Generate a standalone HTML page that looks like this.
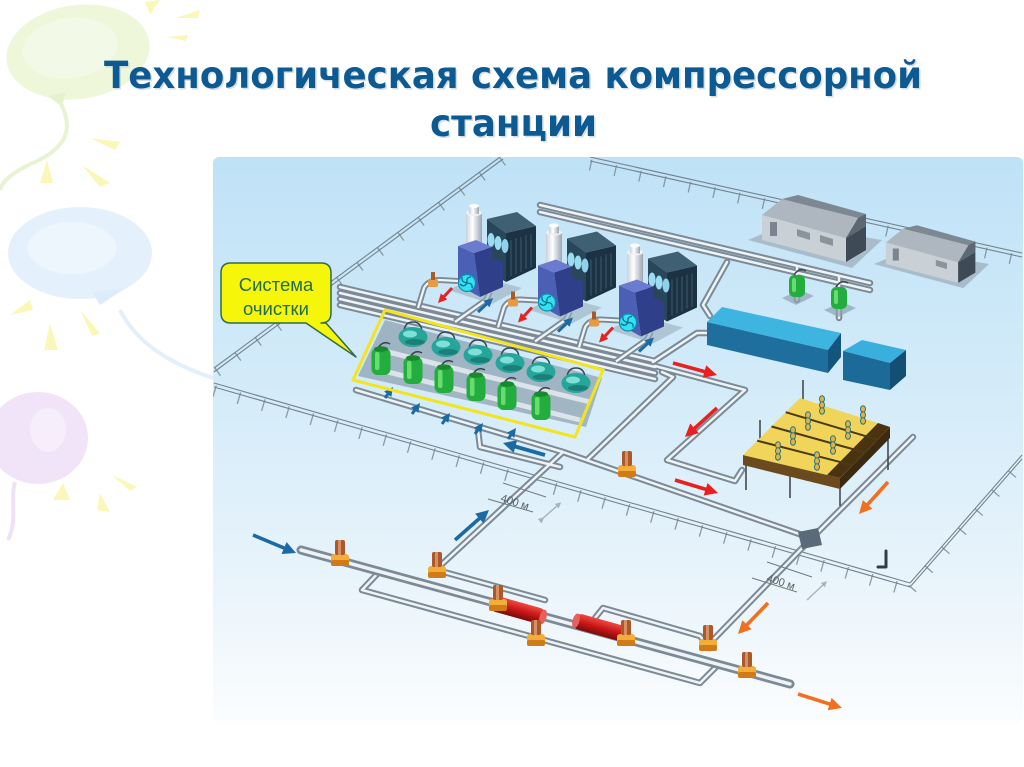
<!DOCTYPE html>
<html><head><meta charset="utf-8">
<style>
html,body{margin:0;padding:0;background:#fff;}
body{width:1024px;height:767px;overflow:hidden;position:relative;}
svg{position:absolute;left:0;top:0;}
</style></head><body>
<svg width="1024" height="767" viewBox="0 0 1024 767" xmlns="http://www.w3.org/2000/svg">
<defs>
 <linearGradient id="bg" x1="0" y1="0" x2="0" y2="1">
  <stop offset="0" stop-color="#bfe2f7"/>
  <stop offset="0.4" stop-color="#d3ebf9"/>
  <stop offset="0.75" stop-color="#e9f4fb"/>
  <stop offset="1" stop-color="#fbfdfe"/>
 </linearGradient>
 <linearGradient id="stk" x1="0" y1="0" x2="1" y2="0">
  <stop offset="0" stop-color="#c9d1d8"/><stop offset="0.4" stop-color="#ffffff"/><stop offset="1" stop-color="#9aa6b0"/>
 </linearGradient>
 <linearGradient id="red" x1="0" y1="0" x2="0" y2="1">
  <stop offset="0" stop-color="#f04a40"/><stop offset="0.5" stop-color="#c81818"/><stop offset="1" stop-color="#7a0a0a"/>
 </linearGradient>
 <clipPath id="box"><rect x="213" y="157" width="810" height="566" rx="6"/></clipPath>
 <marker id="mB" viewBox="0 0 10 10" refX="3" refY="5" markerWidth="13" markerHeight="13" markerUnits="userSpaceOnUse" orient="auto"><path d="M0,0 L10,5 L0,10 z" fill="#1b6aa5"/></marker>
 <marker id="mBs" viewBox="0 0 10 10" refX="3" refY="5" markerWidth="9" markerHeight="9" markerUnits="userSpaceOnUse" orient="auto"><path d="M0,0 L10,5 L0,10 z" fill="#1b6aa5"/></marker>
 <marker id="mR" viewBox="0 0 10 10" refX="3" refY="5" markerWidth="13" markerHeight="13" markerUnits="userSpaceOnUse" orient="auto"><path d="M0,0 L10,5 L0,10 z" fill="#e82020"/></marker>
 <marker id="mRs" viewBox="0 0 10 10" refX="3" refY="5" markerWidth="9" markerHeight="9" markerUnits="userSpaceOnUse" orient="auto"><path d="M0,0 L10,5 L0,10 z" fill="#e82020"/></marker>
 <marker id="mO" viewBox="0 0 10 10" refX="3" refY="5" markerWidth="13" markerHeight="13" markerUnits="userSpaceOnUse" orient="auto"><path d="M0,0 L10,5 L0,10 z" fill="#f07020"/></marker>
 <marker id="mG" viewBox="0 0 10 10" refX="3" refY="5" markerWidth="6" markerHeight="6" markerUnits="userSpaceOnUse" orient="auto"><path d="M0,0 L10,5 L0,10 z" fill="#a8b4bc"/></marker>
</defs>

<!-- background decorations -->
<g>
 <path d="M60,102 C75,130 65,148 35,162 C12,172 2,182 0,190" stroke="#e8f3d4" stroke-width="4" fill="none"/>
 <ellipse cx="78" cy="52" rx="72" ry="47" fill="#eef7da" transform="rotate(-8 78 52)"/>
 <ellipse cx="70" cy="48" rx="48" ry="30" fill="#f2f9e6" transform="rotate(-8 70 48)"/>
 <polygon points="48,96 66,92 62,107" fill="#e6f2cc"/>
 <path d="M120,310 C135,340 165,362 213,378" stroke="#e3effa" stroke-width="4" fill="none"/>
 <ellipse cx="80" cy="253" rx="72" ry="46" fill="#e4f1fc"/>
 <ellipse cx="72" cy="248" rx="44" ry="26" fill="#eef6fd"/>
 <polygon points="92,292 126,288 100,305" fill="#dcecf9"/>
 <ellipse cx="38" cy="438" rx="50" ry="46" fill="#f1e4f9"/>
 <ellipse cx="48" cy="430" rx="18" ry="22" fill="#f6eefb"/>
 <path d="M15,482 C10,500 18,520 8,540" stroke="#efe2f7" stroke-width="4" fill="none"/>
 <g fill="#fbf7b8">
  <polygon points="145,2 160,0 150,14"/>
  <polygon points="175,18 200,10 198,18"/>
  <polygon points="167,37 188,35 186,41"/>
  <polygon points="90,138 120,142 115,150"/>
  <polygon points="40,183 47,160 53,183"/>
  <polygon points="82,165 110,183 100,187"/>
  <polygon points="10,315 30,300 33,310"/>
  <polygon points="44,350 50,323 58,350"/>
  <polygon points="80,310 100,333 92,336"/>
  <polygon points="112,475 137,487 130,491"/>
  <polygon points="53,500 63,483 70,500"/>
  <polygon points="97,510 100,493 110,512"/>
 </g>
</g>

<!-- title -->
<g font-family="'DejaVu Sans','Liberation Sans',sans-serif" font-weight="bold" font-size="37">
 <text x="105.5" y="89.5" fill="#b9c9d6" opacity="0.6" textLength="818" lengthAdjust="spacingAndGlyphs">Технологическая схема компрессорной</text>
 <text x="104" y="88" fill="#0d5a92" textLength="818" lengthAdjust="spacingAndGlyphs">Технологическая схема компрессорной</text>
 <text x="431.5" y="137.5" fill="#b9c9d6" opacity="0.6" textLength="167" lengthAdjust="spacingAndGlyphs">станции</text>
 <text x="430" y="136" fill="#0d5a92" textLength="167" lengthAdjust="spacingAndGlyphs">станции</text>
</g>

<!-- illustration -->
<rect x="213" y="157" width="810" height="566" rx="6" fill="url(#bg)"/>
<g clip-path="url(#box)">
 <!-- fences -->
 <g stroke="#74848f" fill="none">
  <path d="M214,368 L500,157 M214,372 L503,159" stroke-width="1.1"/>
  <path d="M217,372 L503,161" stroke-width="10" stroke-dasharray="1.3 24" opacity="0.8"/>
  <path d="M590,157 L1022,253 M590,161 L1022,257" stroke-width="1.1"/>
  <path d="M590,165 L1022,261" stroke-width="11" stroke-dasharray="1.3 24" opacity="0.8"/>
  <path d="M214,383 L910,583 M214,387 L910,587" stroke-width="1.1"/>
  <path d="M214,391 L910,591" stroke-width="12" stroke-dasharray="1.3 24" opacity="0.8"/>
  <path d="M910,583 L1022,455 M910,587 L1022,459" stroke-width="1.1"/>
  <path d="M912,589 L1022,463" stroke-width="10" stroke-dasharray="1.3 24" opacity="0.8"/>
 </g>

 <!-- pipes -->
 <g fill="none" stroke-linejoin="round" stroke-linecap="round">
  <path stroke="#7b8a96" stroke-width="6.5" d="M380,571 L362,590 L700,683 L717,666 M433,569 L545,600 M595,618 L603,608 L700,636 L710,648 M440,566 L563,452 M356,390 L563,452 M563,452 L808,537 M478,430 L480,447 L560,467 M587,460 L673,377 L662,372 M655,366 L745,390 L667,460 L735,481 L742,470 M913,437 L808,542 L713,640 M540,205 L870,283 M540,212 L870,290 M727,262 L703,305 L710,316 M707,333 L697,333 L653,362 M797,266 L797,300 M839,276 L839,318 M340,287 L655,361 M340,293 L655,367 M340,299 L655,373 M340,305 L655,379"/>
  <path stroke="#eef3f6" stroke-width="2.5" d="M380,571 L362,590 L700,683 L717,666 M433,569 L545,600 M595,618 L603,608 L700,636 L710,648 M440,566 L563,452 M356,390 L563,452 M563,452 L808,537 M478,430 L480,447 L560,467 M587,460 L673,377 L662,372 M655,366 L745,390 L667,460 L735,481 L742,470 M913,437 L808,542 L713,640 M540,205 L870,283 M540,212 L870,290 M727,262 L703,305 L710,316 M707,333 L697,333 L653,362 M797,266 L797,300 M839,276 L839,318 M340,287 L655,361 M340,293 L655,367 M340,299 L655,373 M340,305 L655,379"/>
  <path stroke="#7b8a96" stroke-width="9" d="M301,550 L790,684"/>
  <path stroke="#eef3f6" stroke-width="3.5" d="M301,550 L790,684"/>
  <path d="M878,567 L886,567 L886,551" stroke="#333c44" stroke-width="3"/>
 </g>
 <polygon points="798,532 818,528 822,545 802,549" fill="#5a6a78"/>

 <!-- heaters -->
 <g transform="translate(518,610) rotate(15.6)">
  <rect x="-29" y="-8" width="58" height="16" rx="8" fill="url(#red)"/>
  <ellipse cx="26" cy="0" rx="3.5" ry="7.5" fill="#e66060"/>
 </g>
 <g transform="translate(602,628) rotate(15.6)">
  <rect x="-30" y="-8" width="60" height="16" rx="8" fill="url(#red)"/>
  <ellipse cx="-27" cy="0" rx="3.5" ry="7.5" fill="#e66060"/>
 </g>

 <!-- valves -->
 <g>
  <g transform="translate(340,560)"><rect x="-9" y="-6" width="18" height="12" rx="3" fill="#f2ae38"/><rect x="-9" y="0" width="18" height="6" rx="2" fill="#d07a18"/><rect x="-5" y="-20" width="10" height="15" rx="2" fill="#a9592a"/><rect x="-2" y="-20" width="3" height="15" fill="#d89060"/></g>
  <g transform="translate(437,572)"><rect x="-9" y="-6" width="18" height="12" rx="3" fill="#f2ae38"/><rect x="-9" y="0" width="18" height="6" rx="2" fill="#d07a18"/><rect x="-5" y="-20" width="10" height="15" rx="2" fill="#a9592a"/><rect x="-2" y="-20" width="3" height="15" fill="#d89060"/></g>
  <g transform="translate(498,605)"><rect x="-9" y="-6" width="18" height="12" rx="3" fill="#f2ae38"/><rect x="-9" y="0" width="18" height="6" rx="2" fill="#d07a18"/><rect x="-5" y="-20" width="10" height="15" rx="2" fill="#a9592a"/><rect x="-2" y="-20" width="3" height="15" fill="#d89060"/></g>
  <g transform="translate(536,640)"><rect x="-9" y="-6" width="18" height="12" rx="3" fill="#f2ae38"/><rect x="-9" y="0" width="18" height="6" rx="2" fill="#d07a18"/><rect x="-5" y="-20" width="10" height="15" rx="2" fill="#a9592a"/><rect x="-2" y="-20" width="3" height="15" fill="#d89060"/></g>
  <g transform="translate(627,471)"><rect x="-9" y="-6" width="18" height="12" rx="3" fill="#f2ae38"/><rect x="-9" y="0" width="18" height="6" rx="2" fill="#d07a18"/><rect x="-5" y="-20" width="10" height="15" rx="2" fill="#a9592a"/><rect x="-2" y="-20" width="3" height="15" fill="#d89060"/></g>
  <g transform="translate(626,640)"><rect x="-9" y="-6" width="18" height="12" rx="3" fill="#f2ae38"/><rect x="-9" y="0" width="18" height="6" rx="2" fill="#d07a18"/><rect x="-5" y="-20" width="10" height="15" rx="2" fill="#a9592a"/><rect x="-2" y="-20" width="3" height="15" fill="#d89060"/></g>
  <g transform="translate(708,645)"><rect x="-9" y="-6" width="18" height="12" rx="3" fill="#f2ae38"/><rect x="-9" y="0" width="18" height="6" rx="2" fill="#d07a18"/><rect x="-5" y="-20" width="10" height="15" rx="2" fill="#a9592a"/><rect x="-2" y="-20" width="3" height="15" fill="#d89060"/></g>
  <g transform="translate(747,672)"><rect x="-9" y="-6" width="18" height="12" rx="3" fill="#f2ae38"/><rect x="-9" y="0" width="18" height="6" rx="2" fill="#d07a18"/><rect x="-5" y="-20" width="10" height="15" rx="2" fill="#a9592a"/><rect x="-2" y="-20" width="3" height="15" fill="#d89060"/></g>
 </g>

 <!-- compressor units -->
 <g>
  <path d="M418,308 L424,288 Q428,280 440,280 L458,281 M455,322 L486,300 L490,292" fill="none" stroke="#7b8a96" stroke-width="6" stroke-linejoin="round"/>
  <path d="M418,308 L424,288 Q428,280 440,280 L458,281 M455,322 L486,300 L490,292" fill="none" stroke="#eef3f6" stroke-width="2.3" stroke-linejoin="round"/>
  <polygon points="448,290 478,276 522,288 492,304" fill="#9aaebd" opacity=".6"/>
  <polygon points="506,233 536,226 536,268 506,282" fill="#1c3242"/>
  <path d="M511,240 v36 M516,238 v36 M521,237 v35 M526,235 v34 M531,234 v33" stroke="#3a5a70" stroke-width="1"/>
  <polygon points="487,219 517,212 536,226 506,233" fill="#3f6073"/>
  <polygon points="487,219 506,233 506,282 487,270" fill="#29475a"/>
  <ellipse cx="491" cy="240" rx="3.5" ry="7" fill="#9bdcf2"/>
  <ellipse cx="498" cy="243" rx="3.5" ry="7" fill="#9bdcf2"/>
  <ellipse cx="505" cy="246" rx="3.5" ry="7" fill="#8fd0ea"/>
  <rect x="466" y="213" width="16" height="34" fill="url(#stk)"/>
  <ellipse cx="474" cy="213" rx="8" ry="3" fill="#eef2f5"/>
  <rect x="469" y="206" width="10" height="8" fill="url(#stk)"/>
  <ellipse cx="474" cy="206" rx="5" ry="2" fill="#fff"/>
  <polygon points="458,246 474,253 480,297 458,285" fill="#4b5fb4"/>
  <polygon points="474,253 492,247 492,258 503,262 503,287 480,297" fill="#2f3f8a"/>
  <polygon points="458,246 476,240 492,247 474,253" fill="#6a7bd0"/>
  <circle cx="467" cy="283" r="8.5" fill="#33e1f3" stroke="#0d8fb0" stroke-width="1.2"/>
  <path d="M467,283 q-1,-6 4,-6 M467,283 q6,0 5,5 M467,283 q-3,5 -7,1 M467,283 q-6,-1 -5,-6" stroke="#0a7090" stroke-width="1.3" fill="none"/>
  <rect x="428" y="279" width="10" height="8" rx="2" fill="#e89a40"/>
  <rect x="431" y="272" width="4" height="8" fill="#a85a28"/>
  <line x1="452" y1="288" x2="442.3" y2="298.4" stroke="#e82020" stroke-width="3" marker-end="url(#mRs)"/>
  <line x1="478" y1="312" x2="488.4" y2="302.3" stroke="#1b6aa5" stroke-width="3" marker-end="url(#mBs)"/>
 </g>
 <g transform="translate(80,19.5)">
  <path d="M418,308 L424,288 Q428,280 440,280 L458,281 M455,322 L486,300 L490,292" fill="none" stroke="#7b8a96" stroke-width="6" stroke-linejoin="round"/>
  <path d="M418,308 L424,288 Q428,280 440,280 L458,281 M455,322 L486,300 L490,292" fill="none" stroke="#eef3f6" stroke-width="2.3" stroke-linejoin="round"/>
  <polygon points="448,290 478,276 522,288 492,304" fill="#9aaebd" opacity=".6"/>
  <polygon points="506,233 536,226 536,268 506,282" fill="#1c3242"/>
  <path d="M511,240 v36 M516,238 v36 M521,237 v35 M526,235 v34 M531,234 v33" stroke="#3a5a70" stroke-width="1"/>
  <polygon points="487,219 517,212 536,226 506,233" fill="#3f6073"/>
  <polygon points="487,219 506,233 506,282 487,270" fill="#29475a"/>
  <ellipse cx="491" cy="240" rx="3.5" ry="7" fill="#9bdcf2"/>
  <ellipse cx="498" cy="243" rx="3.5" ry="7" fill="#9bdcf2"/>
  <ellipse cx="505" cy="246" rx="3.5" ry="7" fill="#8fd0ea"/>
  <rect x="466" y="213" width="16" height="34" fill="url(#stk)"/>
  <ellipse cx="474" cy="213" rx="8" ry="3" fill="#eef2f5"/>
  <rect x="469" y="206" width="10" height="8" fill="url(#stk)"/>
  <ellipse cx="474" cy="206" rx="5" ry="2" fill="#fff"/>
  <polygon points="458,246 474,253 480,297 458,285" fill="#4b5fb4"/>
  <polygon points="474,253 492,247 492,258 503,262 503,287 480,297" fill="#2f3f8a"/>
  <polygon points="458,246 476,240 492,247 474,253" fill="#6a7bd0"/>
  <circle cx="467" cy="283" r="8.5" fill="#33e1f3" stroke="#0d8fb0" stroke-width="1.2"/>
  <path d="M467,283 q-1,-6 4,-6 M467,283 q6,0 5,5 M467,283 q-3,5 -7,1 M467,283 q-6,-1 -5,-6" stroke="#0a7090" stroke-width="1.3" fill="none"/>
  <rect x="428" y="279" width="10" height="8" rx="2" fill="#e89a40"/>
  <rect x="431" y="272" width="4" height="8" fill="#a85a28"/>
  <line x1="452" y1="288" x2="442.3" y2="298.4" stroke="#e82020" stroke-width="3" marker-end="url(#mRs)"/>
  <line x1="478" y1="312" x2="488.4" y2="302.3" stroke="#1b6aa5" stroke-width="3" marker-end="url(#mBs)"/>
 </g>
 <g transform="translate(161,39.5)">
  <path d="M418,308 L424,288 Q428,280 440,280 L458,281 M455,322 L486,300 L490,292" fill="none" stroke="#7b8a96" stroke-width="6" stroke-linejoin="round"/>
  <path d="M418,308 L424,288 Q428,280 440,280 L458,281 M455,322 L486,300 L490,292" fill="none" stroke="#eef3f6" stroke-width="2.3" stroke-linejoin="round"/>
  <polygon points="448,290 478,276 522,288 492,304" fill="#9aaebd" opacity=".6"/>
  <polygon points="506,233 536,226 536,268 506,282" fill="#1c3242"/>
  <path d="M511,240 v36 M516,238 v36 M521,237 v35 M526,235 v34 M531,234 v33" stroke="#3a5a70" stroke-width="1"/>
  <polygon points="487,219 517,212 536,226 506,233" fill="#3f6073"/>
  <polygon points="487,219 506,233 506,282 487,270" fill="#29475a"/>
  <ellipse cx="491" cy="240" rx="3.5" ry="7" fill="#9bdcf2"/>
  <ellipse cx="498" cy="243" rx="3.5" ry="7" fill="#9bdcf2"/>
  <ellipse cx="505" cy="246" rx="3.5" ry="7" fill="#8fd0ea"/>
  <rect x="466" y="213" width="16" height="34" fill="url(#stk)"/>
  <ellipse cx="474" cy="213" rx="8" ry="3" fill="#eef2f5"/>
  <rect x="469" y="206" width="10" height="8" fill="url(#stk)"/>
  <ellipse cx="474" cy="206" rx="5" ry="2" fill="#fff"/>
  <polygon points="458,246 474,253 480,297 458,285" fill="#4b5fb4"/>
  <polygon points="474,253 492,247 492,258 503,262 503,287 480,297" fill="#2f3f8a"/>
  <polygon points="458,246 476,240 492,247 474,253" fill="#6a7bd0"/>
  <circle cx="467" cy="283" r="8.5" fill="#33e1f3" stroke="#0d8fb0" stroke-width="1.2"/>
  <path d="M467,283 q-1,-6 4,-6 M467,283 q6,0 5,5 M467,283 q-3,5 -7,1 M467,283 q-6,-1 -5,-6" stroke="#0a7090" stroke-width="1.3" fill="none"/>
  <rect x="428" y="279" width="10" height="8" rx="2" fill="#e89a40"/>
  <rect x="431" y="272" width="4" height="8" fill="#a85a28"/>
  <line x1="452" y1="288" x2="442.3" y2="298.4" stroke="#e82020" stroke-width="3" marker-end="url(#mRs)"/>
  <line x1="478" y1="312" x2="488.4" y2="302.3" stroke="#1b6aa5" stroke-width="3" marker-end="url(#mBs)"/>
 </g>

 <!-- filters (cleaning system) -->
 <polygon points="385,320 602,378 586,427 358,376" fill="#7f919e" opacity="0.6"/>
 <path d="M372,368 L580,420 M380,350 L590,402" stroke="#f4f8fb" stroke-width="5" opacity="0.7"/>
 <g>
  <g transform="translate(413,337)"><path d="M-9,-4 q0,-11 9,-11 q9,0 9,11" fill="none" stroke="#3a4650" stroke-width="1.5"/><ellipse rx="14.5" ry="10" fill="#26a59b"/><ellipse cx="-3" cy="-3" rx="7" ry="3.5" fill="#7fe0d8"/><ellipse cx="2" cy="5" rx="10" ry="3" fill="#1b7f78"/></g>
  <g transform="translate(446,347)"><path d="M-9,-4 q0,-11 9,-11 q9,0 9,11" fill="none" stroke="#3a4650" stroke-width="1.5"/><ellipse rx="14.5" ry="10" fill="#26a59b"/><ellipse cx="-3" cy="-3" rx="7" ry="3.5" fill="#7fe0d8"/><ellipse cx="2" cy="5" rx="10" ry="3" fill="#1b7f78"/></g>
  <g transform="translate(478,355)"><path d="M-9,-4 q0,-11 9,-11 q9,0 9,11" fill="none" stroke="#3a4650" stroke-width="1.5"/><ellipse rx="14.5" ry="10" fill="#26a59b"/><ellipse cx="-3" cy="-3" rx="7" ry="3.5" fill="#7fe0d8"/><ellipse cx="2" cy="5" rx="10" ry="3" fill="#1b7f78"/></g>
  <g transform="translate(510,363)"><path d="M-9,-4 q0,-11 9,-11 q9,0 9,11" fill="none" stroke="#3a4650" stroke-width="1.5"/><ellipse rx="14.5" ry="10" fill="#26a59b"/><ellipse cx="-3" cy="-3" rx="7" ry="3.5" fill="#7fe0d8"/><ellipse cx="2" cy="5" rx="10" ry="3" fill="#1b7f78"/></g>
  <g transform="translate(541,372)"><path d="M-9,-4 q0,-11 9,-11 q9,0 9,11" fill="none" stroke="#3a4650" stroke-width="1.5"/><ellipse rx="14.5" ry="10" fill="#26a59b"/><ellipse cx="-3" cy="-3" rx="7" ry="3.5" fill="#7fe0d8"/><ellipse cx="2" cy="5" rx="10" ry="3" fill="#1b7f78"/></g>
  <g transform="translate(576,383)"><path d="M-9,-4 q0,-11 9,-11 q9,0 9,11" fill="none" stroke="#3a4650" stroke-width="1.5"/><ellipse rx="14.5" ry="10" fill="#26a59b"/><ellipse cx="-3" cy="-3" rx="7" ry="3.5" fill="#7fe0d8"/><ellipse cx="2" cy="5" rx="10" ry="3" fill="#1b7f78"/></g>
 </g>
 <g>
  <g transform="translate(381,362)"><path d="M-3,-14 q5,-8 12,-4" fill="none" stroke="#3a4650" stroke-width="1.5"/><rect x="-9.5" y="-14" width="19" height="27" rx="6" fill="#22ad3e"/><rect x="-6" y="-10" width="4.5" height="18" rx="2" fill="#7be87a" opacity=".8"/><ellipse cy="-13" rx="7" ry="2.8" fill="#178a2c"/></g>
  <g transform="translate(413,371)"><path d="M-3,-14 q5,-8 12,-4" fill="none" stroke="#3a4650" stroke-width="1.5"/><rect x="-9.5" y="-14" width="19" height="27" rx="6" fill="#22ad3e"/><rect x="-6" y="-10" width="4.5" height="18" rx="2" fill="#7be87a" opacity=".8"/><ellipse cy="-13" rx="7" ry="2.8" fill="#178a2c"/></g>
  <g transform="translate(444,380)"><path d="M-3,-14 q5,-8 12,-4" fill="none" stroke="#3a4650" stroke-width="1.5"/><rect x="-9.5" y="-14" width="19" height="27" rx="6" fill="#22ad3e"/><rect x="-6" y="-10" width="4.5" height="18" rx="2" fill="#7be87a" opacity=".8"/><ellipse cy="-13" rx="7" ry="2.8" fill="#178a2c"/></g>
  <g transform="translate(476,388)"><path d="M-3,-14 q5,-8 12,-4" fill="none" stroke="#3a4650" stroke-width="1.5"/><rect x="-9.5" y="-14" width="19" height="27" rx="6" fill="#22ad3e"/><rect x="-6" y="-10" width="4.5" height="18" rx="2" fill="#7be87a" opacity=".8"/><ellipse cy="-13" rx="7" ry="2.8" fill="#178a2c"/></g>
  <g transform="translate(507,397)"><path d="M-3,-14 q5,-8 12,-4" fill="none" stroke="#3a4650" stroke-width="1.5"/><rect x="-9.5" y="-14" width="19" height="27" rx="6" fill="#22ad3e"/><rect x="-6" y="-10" width="4.5" height="18" rx="2" fill="#7be87a" opacity=".8"/><ellipse cy="-13" rx="7" ry="2.8" fill="#178a2c"/></g>
  <g transform="translate(541,407)"><path d="M-3,-14 q5,-8 12,-4" fill="none" stroke="#3a4650" stroke-width="1.5"/><rect x="-9.5" y="-14" width="19" height="27" rx="6" fill="#22ad3e"/><rect x="-6" y="-10" width="4.5" height="18" rx="2" fill="#7be87a" opacity=".8"/><ellipse cy="-13" rx="7" ry="2.8" fill="#178a2c"/></g>
 </g>
 <g stroke="#1b6aa5" stroke-width="3">
  <line x1="385" y1="398" x2="389.3" y2="392.1" marker-end="url(#mBs)"/>
  <line x1="412" y1="414" x2="416.3" y2="408.1" marker-end="url(#mBs)"/>
  <line x1="442" y1="424" x2="446.3" y2="418.1" marker-end="url(#mBs)"/>
  <line x1="475" y1="434" x2="479.3" y2="428.1" marker-end="url(#mBs)"/>
  <line x1="508" y1="439" x2="512.3" y2="433.1" marker-end="url(#mBs)"/>
 </g>
 <polygon points="385,310 603,370 575,437 353,380" fill="none" stroke="#f3e51c" stroke-width="3"/>

 <!-- buildings -->
 <g>
  <polygon points="748,240 786,224 882,240 852,268" fill="#a9bccb"/>
  <polygon points="762,215 846,238 846,262 762,240" fill="#c9d0d6"/>
  <polygon points="846,238 866,226 866,250 846,262" fill="#3e4a55"/>
  <polygon points="762,215 782,199 858,218 846,238" fill="#aeb7bf"/>
  <polygon points="782,199 798,195 866,214 866,226 858,218" fill="#7d8892"/>
  <polygon points="858,218 866,214 866,226 846,238" fill="#5d6872"/>
  <rect x="770" y="222" width="7" height="14" fill="#7a858f"/>
  <polygon points="797,229 810,233 810,240 797,236" fill="#8a949d"/>
  <polygon points="820,235 833,239 833,246 820,242" fill="#8a949d"/>
 </g>
 <g transform="matrix(0.86 0 0 0.86 230.6 57.6)">
  <polygon points="748,240 786,224 882,240 852,268" fill="#a9bccb"/>
  <polygon points="762,215 846,238 846,262 762,240" fill="#c9d0d6"/>
  <polygon points="846,238 866,226 866,250 846,262" fill="#3e4a55"/>
  <polygon points="762,215 782,199 858,218 846,238" fill="#aeb7bf"/>
  <polygon points="782,199 798,195 866,214 866,226 858,218" fill="#7d8892"/>
  <polygon points="858,218 866,214 866,226 846,238" fill="#5d6872"/>
  <rect x="770" y="222" width="7" height="14" fill="#7a858f"/>
  <polygon points="820,235 833,239 833,246 820,242" fill="#8a949d"/>
 </g>

 <!-- small green compressors -->
 <polygon points="782,298 800,290 814,296 796,305" fill="#8ea2b2" opacity=".7"/>
 <polygon points="824,310 842,302 856,308 838,317" fill="#8ea2b2" opacity=".7"/>
 <g transform="translate(797,287)"><path d="M-3,-12 q5,-8 12,-4" fill="none" stroke="#3a4650" stroke-width="1.5"/><rect x="-8" y="-12" width="16" height="22" rx="5" fill="#22ad3e"/><rect x="-5" y="-9" width="4" height="14" rx="2" fill="#7be87a" opacity=".8"/></g>
 <g transform="translate(839,299)"><path d="M-3,-12 q5,-8 12,-4" fill="none" stroke="#3a4650" stroke-width="1.5"/><rect x="-8" y="-12" width="16" height="22" rx="5" fill="#22ad3e"/><rect x="-5" y="-9" width="4" height="14" rx="2" fill="#7be87a" opacity=".8"/></g>

 <!-- tanks -->
 <polygon points="707,322 722,307 841,333 828,350" fill="#3eb4e0"/>
 <polygon points="707,322 828,350 828,373 707,345" fill="#1f6f9e"/>
 <polygon points="828,350 841,333 841,357 828,373" fill="#15557d"/>
 <polygon points="843,351 862,340 906,350 890,363" fill="#3aaedc"/>
 <polygon points="843,351 890,363 890,390 843,380" fill="#1c6a98"/>
 <polygon points="890,363 906,350 906,376 890,390" fill="#134f75"/>

 <!-- cooler -->
 <g stroke="#3a3f44" stroke-width="1.5">
  <line x1="746" y1="462" x2="746" y2="490"/>
  <line x1="790" y1="472" x2="790" y2="498"/>
  <line x1="840" y1="486" x2="840" y2="506"/>
  <line x1="888" y1="436" x2="888" y2="470"/>
  <line x1="803" y1="404" x2="803" y2="380"/>
  <line x1="760" y1="446" x2="760" y2="420"/>
 </g>
 <polygon points="743,455 840,478 840,489 743,465" fill="#6b4a1e"/>
 <polygon points="840,478 890,427 890,438 840,489" fill="#3b2a10"/>
 <polygon points="743,455 800,398 890,427 840,478" fill="#f1d45a"/>
 <polygon points="878,423 890,427 840,478 827,475" fill="#4a3410"/>
 <g stroke="#4a3a18" stroke-width="2">
  <line x1="785.7" y1="412.2" x2="877.5" y2="439.7"/>
  <line x1="771.5" y1="426.5" x2="865" y2="452.5"/>
  <line x1="757.2" y1="440.7" x2="852.5" y2="465.2"/>
 </g>
 <g fill="#e8b040" stroke="#1e7a8a" stroke-width="1">
  <ellipse cx="822" cy="399" rx="2.5" ry="3.2"/><ellipse cx="822" cy="405" rx="2.5" ry="3.2"/><ellipse cx="822" cy="411" rx="2.5" ry="3.2"/>
  <ellipse cx="863" cy="409" rx="2.5" ry="3.2"/><ellipse cx="863" cy="415" rx="2.5" ry="3.2"/><ellipse cx="863" cy="421" rx="2.5" ry="3.2"/>
  <ellipse cx="808" cy="415" rx="2.5" ry="3.2"/><ellipse cx="808" cy="421" rx="2.5" ry="3.2"/><ellipse cx="808" cy="427" rx="2.5" ry="3.2"/>
  <ellipse cx="848" cy="424" rx="2.5" ry="3.2"/><ellipse cx="848" cy="430" rx="2.5" ry="3.2"/><ellipse cx="848" cy="436" rx="2.5" ry="3.2"/>
  <ellipse cx="793" cy="430" rx="2.5" ry="3.2"/><ellipse cx="793" cy="436" rx="2.5" ry="3.2"/><ellipse cx="793" cy="442" rx="2.5" ry="3.2"/>
  <ellipse cx="833" cy="439" rx="2.5" ry="3.2"/><ellipse cx="833" cy="445" rx="2.5" ry="3.2"/><ellipse cx="833" cy="451" rx="2.5" ry="3.2"/>
  <ellipse cx="778" cy="445" rx="2.5" ry="3.2"/><ellipse cx="778" cy="451" rx="2.5" ry="3.2"/><ellipse cx="778" cy="457" rx="2.5" ry="3.2"/>
  <ellipse cx="817" cy="455" rx="2.5" ry="3.2"/><ellipse cx="817" cy="461" rx="2.5" ry="3.2"/><ellipse cx="817" cy="467" rx="2.5" ry="3.2"/>
 </g>

 <!-- flow arrows -->
 <g stroke-width="3.6" fill="none">
  <line x1="253" y1="535" x2="287.6" y2="549.5" stroke="#1b6aa5" marker-end="url(#mB)"/>
  <line x1="455" y1="540" x2="482.2" y2="516" stroke="#1b6aa5" marker-end="url(#mB)"/>
  <line x1="545" y1="455" x2="511.7" y2="445.5" stroke="#1b6aa5" stroke-width="4" marker-end="url(#mB)"/>
  <line x1="673" y1="363" x2="708.2" y2="372.6" stroke="#e82020" marker-end="url(#mR)"/>
  <line x1="717" y1="408" x2="691.7" y2="430.9" stroke="#e82020" marker-end="url(#mR)"/>
  <line x1="675" y1="480" x2="709.3" y2="490.4" stroke="#e82020" marker-end="url(#mR)"/>
  <line x1="888" y1="482" x2="865.1" y2="507.3" stroke="#f07020" marker-end="url(#mO)"/>
  <line x1="768" y1="603" x2="744.3" y2="627.5" stroke="#f07020" marker-end="url(#mO)"/>
  <line x1="798" y1="694" x2="833.3" y2="705.2" stroke="#f07020" marker-end="url(#mO)"/>
 </g>

 <!-- distance labels -->
 <g stroke="#6e7a84" stroke-width="1" fill="none">
  <line x1="503" y1="483" x2="546" y2="497"/>
  <line x1="488" y1="499" x2="533" y2="512"/>
  <line x1="767" y1="562" x2="812" y2="577"/>
  <line x1="752" y1="578" x2="797" y2="592"/>
 </g>
 <g stroke="#a8b4bc" stroke-width="1.5">
  <line x1="541" y1="520" x2="558" y2="505" marker-end="url(#mG)" marker-start="url(#mG)"/>
  <line x1="807" y1="600" x2="824" y2="584" marker-end="url(#mG)"/>
 </g>
 <text transform="translate(500,501) rotate(18)" font-family="'Liberation Sans',sans-serif" font-size="11" fill="#555f66">400 м</text>
 <text transform="translate(766,581) rotate(18)" font-family="'Liberation Sans',sans-serif" font-size="11" fill="#555f66">400 м</text>
</g>

<!-- callout -->
<path d="M231,263 H321 Q331,263 331,273 V313 Q331,323 321,323 H326 L356,357 L306,323 H231 Q221,323 221,313 V273 Q221,263 231,263 Z" fill="#f6f60a" stroke="#2e6b4f" stroke-width="1.5" stroke-linejoin="round"/>
<g font-family="'Liberation Sans','DejaVu Sans',sans-serif" font-size="18.5" fill="#236b4e" text-anchor="middle">
 <text x="276" y="291">Система</text>
 <text x="276" y="315">очистки</text>
</g>
</svg>
</body></html>
